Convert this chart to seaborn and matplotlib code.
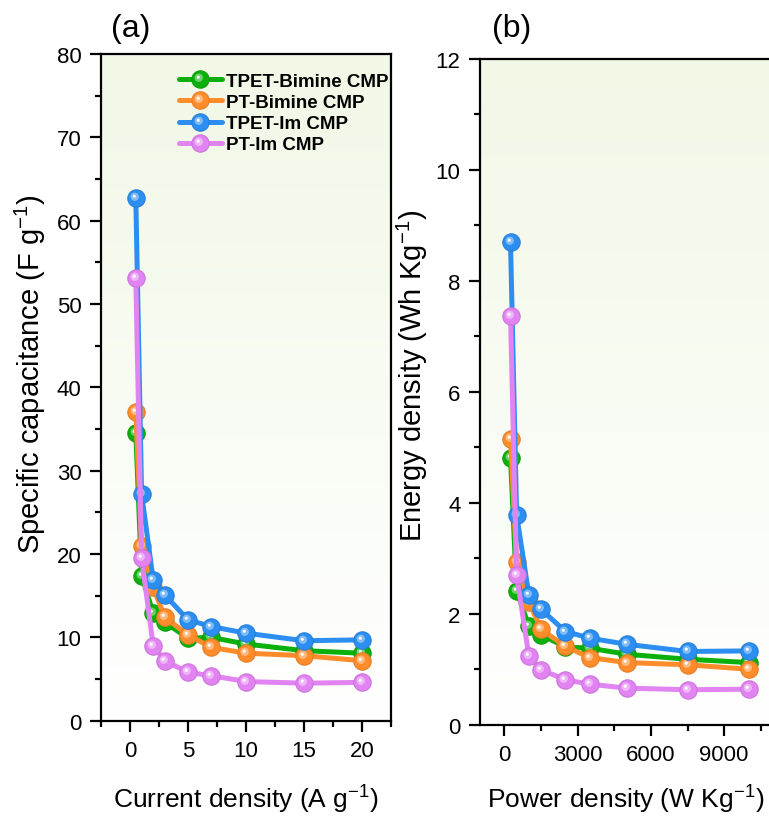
import numpy as np
import pandas as pd
import matplotlib
matplotlib.use('Agg')
import matplotlib.pyplot as plt
import seaborn as sns
from matplotlib.path import Path
from matplotlib.lines import Line2D
from matplotlib.legend_handler import HandlerTuple
from matplotlib.colors import to_rgb, LinearSegmentedColormap
from matplotlib.ticker import MultipleLocator

# ---------------- data ----------------
series = ['TPET-Bimine CMP', 'PT-Bimine CMP', 'TPET-Im CMP', 'PT-Im CMP']
colors = ['#0cb00c', '#ff8c2a', '#2b8ef0', '#e283f2']

current_density = [0.5, 1, 2, 3, 5, 7, 10, 15, 20]
cap_tpet_bimine = [34.5, 17.4, 12.9, 11.8, 9.9, 10.0, 9.2, 8.4, 8.1]
cap_pt_bimine = [37.1, 21.0, 16.0, 12.4, 10.3, 8.8, 8.1, 7.8, 7.2]
cap_tpet_im = [62.7, 27.2, 16.9, 15.1, 12.1, 11.3, 10.5, 9.6, 9.7]
cap_pt_im = [53.1, 19.5, 9.0, 7.2, 5.8, 5.4, 4.7, 4.5, 4.6]

power_density = [250, 500, 1000, 1500, 2500, 3500, 5000, 7500, 10000]
en_tpet_bimine = [4.80, 2.41, 1.78, 1.62, 1.40, 1.38, 1.27, 1.18, 1.12]
en_pt_bimine = [5.15, 2.93, 2.22, 1.72, 1.41, 1.21, 1.12, 1.08, 1.00]
en_tpet_im = [8.70, 3.78, 2.34, 2.08, 1.68, 1.56, 1.45, 1.32, 1.33]
en_pt_im = [7.37, 2.70, 1.24, 0.99, 0.81, 0.73, 0.66, 0.63, 0.64]

caps = [cap_tpet_bimine, cap_pt_bimine, cap_tpet_im, cap_pt_im]
ens = [en_tpet_bimine, en_pt_bimine, en_tpet_im, en_pt_im]

df_a = pd.DataFrame({'x': np.tile(current_density, 4),
                     'y': np.concatenate(caps),
                     'series': np.repeat(series, len(current_density))})
df_b = pd.DataFrame({'x': np.tile(power_density, 4),
                     'y': np.concatenate(ens),
                     'series': np.repeat(series, len(power_density))})

# ---------------- style ----------------
sns.set_style('ticks')
plt.rcParams['font.family'] = ['Liberation Sans', 'DejaVu Sans']
plt.rcParams['mathtext.fontset'] = 'custom'
plt.rcParams['mathtext.rm'] = 'Liberation Sans'
plt.rcParams['mathtext.it'] = 'Liberation Sans:italic'
plt.rcParams['mathtext.bf'] = 'Liberation Sans:bold'
for k in ['text.color', 'axes.labelcolor', 'xtick.color', 'ytick.color',
          'axes.edgecolor']:
    plt.rcParams[k] = 'black'


def blob(cx, cy, r):
    anchor = Path([(-0.5, -0.5), (0.5, 0.5)], [Path.MOVETO, Path.MOVETO])
    return Path.make_compound_path(anchor, Path.circle((cx, cy), r))


GLOW = blob(-0.10, 0.10, 0.24)
SPOT = blob(-0.13, 0.13, 0.09)
MS = 12.5
LW = 3.6


def mix(c, w, t):
    c = np.array(to_rgb(c)); w = np.array(to_rgb(w))
    return tuple(c * (1 - t) + w * t)


fig = plt.figure(figsize=(7.69, 8.20), dpi=100)
ax_a = fig.add_axes([101 / 769, 1 - 721.7 / 820, 290 / 769, (721.7 - 55) / 820])
ax_b = fig.add_axes([480 / 769, 1 - 725.7 / 820, 293 / 769, (725.7 - 60) / 820])

bg = LinearSegmentedColormap.from_list('bg', ['#ffffff', '#f1f8e6'])
grad = np.linspace(0, 1, 256).reshape(-1, 1)

for ax, df in [(ax_a, df_a), (ax_b, df_b)]:
    ax.imshow(grad, cmap=bg, aspect='auto', origin='lower',
              extent=(0, 1, 0, 1), transform=ax.transAxes, zorder=0)
    for i, (s, c) in enumerate(zip(series, colors)):
        d = df[df['series'] == s]
        sns.lineplot(data=d, x='x', y='y', color=c, lw=LW, marker='o',
                     markersize=MS, markeredgecolor=mix(c, 'black', 0.10),
                     markeredgewidth=0.8, sort=False, ax=ax, zorder=3 + i,
                     legend=False)
        ax.plot(d['x'], d['y'], ls='none', marker=GLOW, ms=MS,
                mfc=mix(c, 'white', 0.40), mew=0, zorder=3 + i)
        ax.plot(d['x'], d['y'], ls='none', marker=SPOT, ms=MS,
                mfc='white', mew=0, zorder=3 + i)
    for sp in ax.spines.values():
        sp.set_linewidth(1.6)
        sp.set_color('black')
    ax.tick_params(which='major', direction='out', length=8, width=1.6,
                   labelsize=16, pad=6, top=False, right=False, color='black',
                   labelcolor='black')
    ax.tick_params(which='minor', direction='out', length=4, width=1.6,
                   top=False, right=False, color='black')

ax_a.set_xlim(-2.5, 22.5)
ax_a.set_ylim(0, 80)
ax_a.xaxis.set_major_locator(MultipleLocator(5))
ax_a.xaxis.set_minor_locator(MultipleLocator(2.5))
ax_a.yaxis.set_major_locator(MultipleLocator(10))
ax_a.yaxis.set_minor_locator(MultipleLocator(5))
ax_a.set_xlabel('Current density (A g$^{-1}$)', fontsize=19)
ax_a.xaxis.set_label_coords(0.5, (721.7 - 784) / 666.7)
ax_a.set_ylabel('Specific capacitance (F g$^{-1}$)', fontsize=21, labelpad=6)
ax_a.yaxis.label.set_y((721.7 - 374) / 666.7)

ax_b.set_xlim(-1000, 11000)
ax_b.set_ylim(0, 12)
ax_b.set_xticks([0, 3000, 6000, 9000])
ax_b.xaxis.set_minor_locator(MultipleLocator(1500))
ax_b.yaxis.set_major_locator(MultipleLocator(2))
ax_b.yaxis.set_minor_locator(MultipleLocator(1))
ax_b.set_xlabel('Power density (W Kg$^{-1}$)', fontsize=19)
ax_b.xaxis.set_label_coords((626 - 480) / 293, (725.7 - 784) / 665.7)
ax_b.set_ylabel('Energy density (Wh Kg$^{-1}$)', fontsize=21, labelpad=4)
ax_b.yaxis.label.set_y((725.7 - 376) / 665.7)

fig.text(111 / 769, 1 - 29 / 820, '(a)', fontsize=23, ha='left', va='center')
fig.text(492 / 769, 1 - 29 / 820, '(b)', fontsize=23, ha='left', va='center')

handles = []
for c in colors:
    h1 = Line2D([], [], color=c, lw=LW, marker='o', ms=MS,
                mec=mix(c, 'black', 0.10), mew=0.8)
    h2 = Line2D([], [], ls='none', marker=GLOW, ms=MS, mfc=mix(c, 'white', 0.40), mew=0)
    h3 = Line2D([], [], ls='none', marker=SPOT, ms=MS, mfc='white', mew=0)
    handles.append((h1, h2, h3))
ax_a.legend(handles, series, handler_map={tuple: HandlerTuple(ndivide=1)},
            loc='upper right', bbox_to_anchor=(1.022, 0.985), frameon=False,
            prop={'weight': 'bold', 'size': 13.5}, handlelength=2.3,
            handletextpad=0.25, labelspacing=0.22, borderaxespad=0.05,
            numpoints=1)

fig.savefig('out.png', dpi=100)
